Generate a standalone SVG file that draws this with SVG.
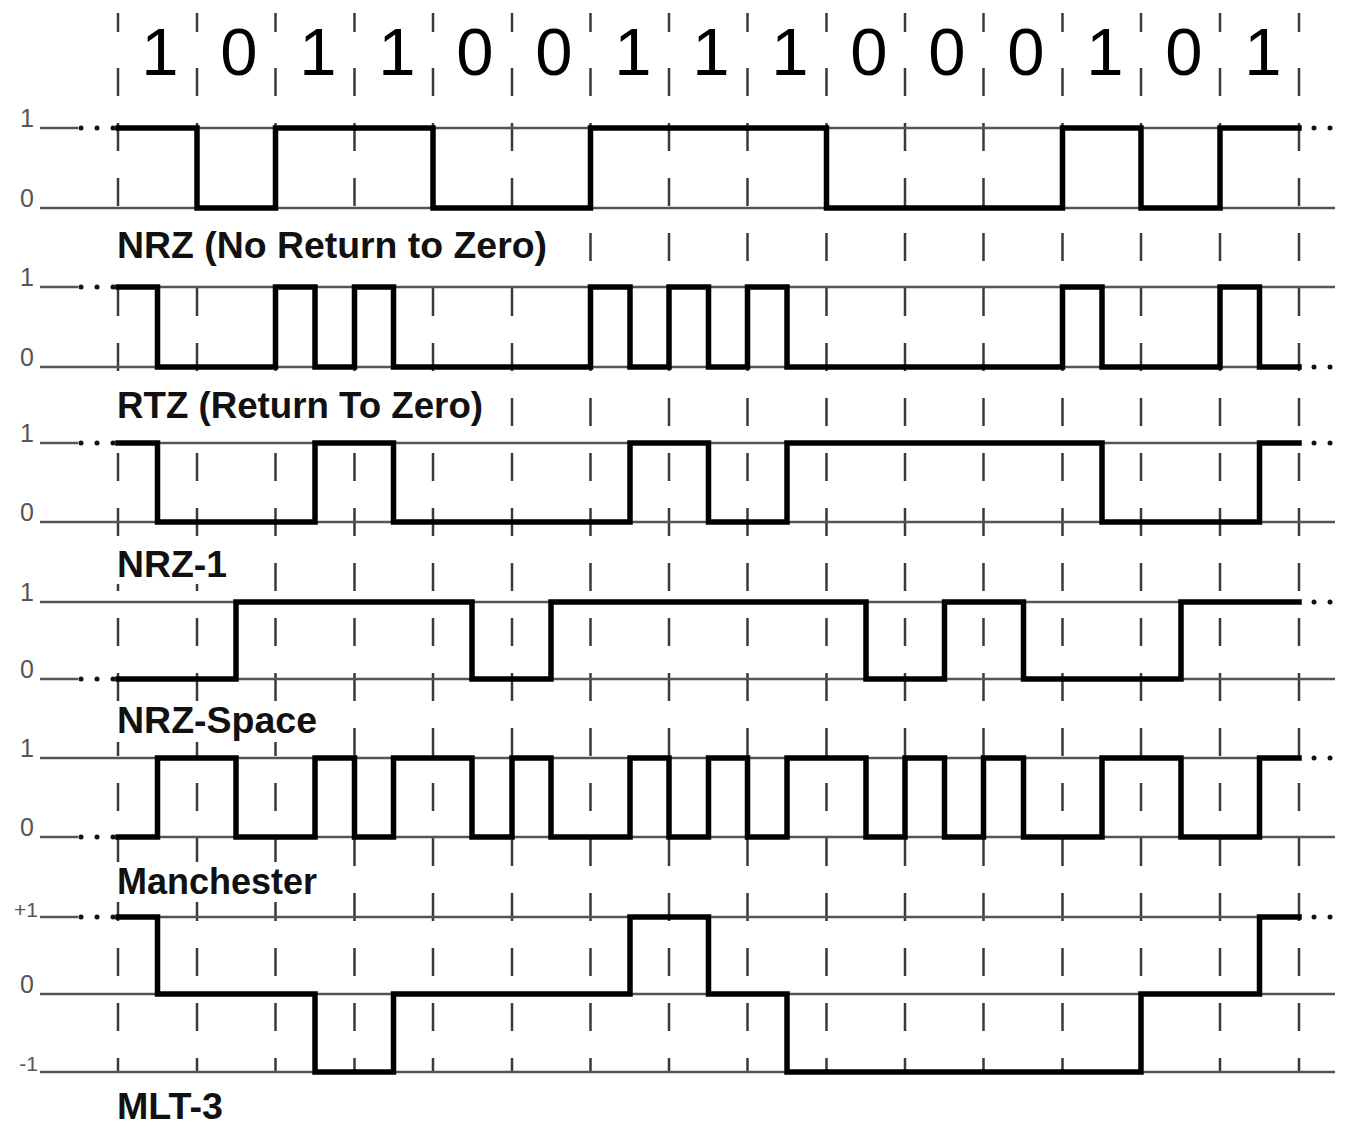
<svg xmlns="http://www.w3.org/2000/svg" width="1346" height="1127" viewBox="0 0 1346 1127">
<style>
.grid{stroke:#3a3a3a;stroke-width:2.5;fill:none}
.dash{stroke-dasharray:28 27}
.lvl{stroke:#555;stroke-width:2.5;fill:none}
.sig{stroke:#000;stroke-width:5.5;fill:none;stroke-linejoin:miter;stroke-linecap:square}
.bit{font-family:"Liberation Sans",Arial,sans-serif;font-size:67px;fill:#000;text-anchor:middle}
.name{font-family:"Liberation Sans",Arial,sans-serif;font-size:37px;font-weight:bold;fill:#111}
.mask{fill:#fff}
.ax{font-family:"Liberation Sans",Arial,sans-serif;font-size:25px;fill:#555;text-anchor:end}
.dot{fill:#111}
</style>
<rect width="1346" height="1127" fill="#fff"/>

<g id="gridlines">
  <g class="grid">
    <line x1="118" y1="13" x2="118" y2="32"/><line class="dash" x1="118" y1="68" x2="118" y2="1072"/>
    <line x1="197" y1="13" x2="197" y2="32"/><line class="dash" x1="197" y1="68" x2="197" y2="1072"/>
    <line x1="275.5" y1="13" x2="275.5" y2="32"/><line class="dash" x1="275.5" y1="68" x2="275.5" y2="1072"/>
    <line x1="354.5" y1="13" x2="354.5" y2="32"/><line class="dash" x1="354.5" y1="68" x2="354.5" y2="1072"/>
    <line x1="433" y1="13" x2="433" y2="32"/><line class="dash" x1="433" y1="68" x2="433" y2="1072"/>
    <line x1="512" y1="13" x2="512" y2="32"/><line class="dash" x1="512" y1="68" x2="512" y2="1072"/>
    <line x1="590.5" y1="13" x2="590.5" y2="32"/><line class="dash" x1="590.5" y1="68" x2="590.5" y2="1072"/>
    <line x1="669" y1="13" x2="669" y2="32"/><line class="dash" x1="669" y1="68" x2="669" y2="1072"/>
    <line x1="747.5" y1="13" x2="747.5" y2="32"/><line class="dash" x1="747.5" y1="68" x2="747.5" y2="1072"/>
    <line x1="826.5" y1="13" x2="826.5" y2="32"/><line class="dash" x1="826.5" y1="68" x2="826.5" y2="1072"/>
    <line x1="905" y1="13" x2="905" y2="32"/><line class="dash" x1="905" y1="68" x2="905" y2="1072"/>
    <line x1="983.5" y1="13" x2="983.5" y2="32"/><line class="dash" x1="983.5" y1="68" x2="983.5" y2="1072"/>
    <line x1="1062.5" y1="13" x2="1062.5" y2="32"/><line class="dash" x1="1062.5" y1="68" x2="1062.5" y2="1072"/>
    <line x1="1141" y1="13" x2="1141" y2="32"/><line class="dash" x1="1141" y1="68" x2="1141" y2="1072"/>
    <line x1="1220" y1="13" x2="1220" y2="32"/><line class="dash" x1="1220" y1="68" x2="1220" y2="1072"/>
    <line x1="1299" y1="13" x2="1299" y2="32"/><line class="dash" x1="1299" y1="68" x2="1299" y2="1072"/>
  </g>
</g>

<g id="bits">
  <text class="bit" x="160" y="75">1</text>
  <text class="bit" x="239" y="75">0</text>
  <text class="bit" x="318" y="75">1</text>
  <text class="bit" x="397" y="75">1</text>
  <text class="bit" x="475" y="75">0</text>
  <text class="bit" x="554" y="75">0</text>
  <text class="bit" x="633" y="75">1</text>
  <text class="bit" x="711" y="75">1</text>
  <text class="bit" x="790" y="75">1</text>
  <text class="bit" x="869" y="75">0</text>
  <text class="bit" x="947" y="75">0</text>
  <text class="bit" x="1026" y="75">0</text>
  <text class="bit" x="1105" y="75">1</text>
  <text class="bit" x="1184" y="75">0</text>
  <text class="bit" x="1263" y="75">1</text>
</g>

<g id="nrz">
  <text class="ax" x="34" y="127">1</text>
  <text class="ax" x="34" y="207">0</text>
  <path class="lvl" d="M40,128 H78 M118,128 H1299 M40,208 H1335"/>
  <circle class="dot" cx="81" cy="128" r="2.5"/><circle class="dot" cx="97" cy="128" r="2.5"/><circle class="dot" cx="113" cy="128" r="2.5"/>
  <circle class="dot" cx="1314" cy="128" r="2.5"/><circle class="dot" cx="1330" cy="128" r="2.5"/>
  <path class="sig" d="M118,128 H197 V208 H275.5 V128 H433 V208 H590.5 V128 H826.5 V208 H1062.5 V128 H1141 V208 H1220 V128 H1299"/>
  <rect class="mask" x="112" y="226" width="440" height="42"/>
  <text class="name" x="117" y="258" textLength="430" lengthAdjust="spacingAndGlyphs">NRZ (No Return to Zero)</text>
</g>

<g id="rtz">
  <text class="ax" x="34" y="286">1</text>
  <text class="ax" x="34" y="366">0</text>
  <path class="lvl" d="M40,287 H78 M118,287 H1335 M40,367 H1299"/>
  <circle class="dot" cx="81" cy="287" r="2.5"/><circle class="dot" cx="97" cy="287" r="2.5"/><circle class="dot" cx="113" cy="287" r="2.5"/>
  <circle class="dot" cx="1314" cy="367" r="2.5"/><circle class="dot" cx="1330" cy="367" r="2.5"/>
  <path class="sig" d="M118,287 H157.5 V367 H275.5 V287 H315 V367 H354.5 V287 H393.5 V367 H590.5 V287 H630 V367 H669 V287 H708.5 V367 H747.5 V287 H787 V367 H1062.5 V287 H1102 V367 H1220 V287 H1259.5 V367 H1299"/>
  <rect class="mask" x="112" y="386" width="376" height="42"/>
  <text class="name" x="117" y="418" textLength="366" lengthAdjust="spacingAndGlyphs">RTZ (Return To Zero)</text>
</g>

<g id="nrz-1">
  <text class="ax" x="34" y="442">1</text>
  <text class="ax" x="34" y="521">0</text>
  <path class="lvl" d="M40,443 H78 M118,443 H1299 M40,522 H1335"/>
  <circle class="dot" cx="81" cy="443" r="2.5"/><circle class="dot" cx="97" cy="443" r="2.5"/><circle class="dot" cx="113" cy="443" r="2.5"/>
  <circle class="dot" cx="1314" cy="443" r="2.5"/><circle class="dot" cx="1330" cy="443" r="2.5"/>
  <path class="sig" d="M118,443 H157.5 V522 H315 V443 H393.5 V522 H630 V443 H708.5 V522 H787 V443 H1102 V522 H1259.5 V443 H1299"/>
  <rect class="mask" x="112" y="546" width="120" height="38"/>
  <text class="name" x="117" y="577" textLength="110" lengthAdjust="spacingAndGlyphs">NRZ-1</text>
</g>

<g id="nrz-space">
  <text class="ax" x="34" y="601">1</text>
  <text class="ax" x="34" y="678">0</text>
  <path class="lvl" d="M40,602 H1299 M40,679 H78 M118,679 H1335"/>
  <circle class="dot" cx="81" cy="679" r="2.5"/><circle class="dot" cx="97" cy="679" r="2.5"/><circle class="dot" cx="113" cy="679" r="2.5"/>
  <circle class="dot" cx="1314" cy="602" r="2.5"/><circle class="dot" cx="1330" cy="602" r="2.5"/>
  <path class="sig" d="M118,679 H236 V602 H472 V679 H551 V602 H866 V679 H944.5 V602 H1023.5 V679 H1181 V602 H1299"/>
  <rect class="mask" x="112" y="702" width="210" height="40"/>
  <text class="name" x="117" y="733" textLength="200" lengthAdjust="spacingAndGlyphs">NRZ-Space</text>
</g>

<g id="manchester">
  <text class="ax" x="34" y="757">1</text>
  <text class="ax" x="34" y="836">0</text>
  <path class="lvl" d="M40,758 H1299 M40,837 H78 M118,837 H1335"/>
  <circle class="dot" cx="81" cy="837" r="2.5"/><circle class="dot" cx="97" cy="837" r="2.5"/><circle class="dot" cx="113" cy="837" r="2.5"/>
  <circle class="dot" cx="1314" cy="758" r="2.5"/><circle class="dot" cx="1330" cy="758" r="2.5"/>
  <path class="sig" d="M118,837 H157.5 V758 H236 V837 H315 V758 H354.5 V837 H393.5 V758 H472 V837 H512 V758 H551 V837 H630 V758 H669 V837 H708.5 V758 H747.5 V837 H787 V758 H866 V837 H905 V758 H944.5 V837 H983.5 V758 H1023.5 V837 H1102 V758 H1181 V837 H1259.5 V758 H1299"/>
  <rect class="mask" x="112" y="862" width="210" height="40"/>
  <text class="name" x="117" y="894" textLength="200" lengthAdjust="spacingAndGlyphs">Manchester</text>
</g>

<g id="mlt-3">
  <text class="ax" x="38" y="917" style="font-size:21px">+1</text>
  <text class="ax" x="34" y="993">0</text>
  <text class="ax" x="38" y="1071" style="font-size:21px">-1</text>
  <path class="lvl" d="M40,917 H78 M118,917 H1299 M40,994 H1335 M40,1072 H1335"/>
  <circle class="dot" cx="81" cy="917" r="2.5"/><circle class="dot" cx="97" cy="917" r="2.5"/><circle class="dot" cx="113" cy="917" r="2.5"/>
  <circle class="dot" cx="1314" cy="917" r="2.5"/><circle class="dot" cx="1330" cy="917" r="2.5"/>
  <path class="sig" d="M118,917 H157.5 V994 H315 V1072 H393.5 V994 H630 V917 H708.5 V994 H787 V1072 H1141 V994 H1259.5 V917 H1299"/>
  <text class="name" x="117" y="1119" textLength="106" lengthAdjust="spacingAndGlyphs">MLT-3</text>
</g>
</svg>
